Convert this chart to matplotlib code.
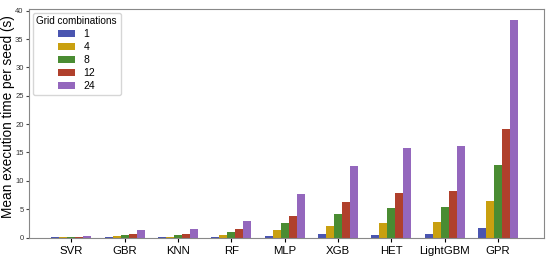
import matplotlib.pyplot as plt
import numpy as np

plt.rcParams['font.family'] = ['Liberation Sans', 'DejaVu Sans']

models = ["SVR", "GBR", "KNN", "RF", "MLP", "XGB", "HET", "LightGBM", "GPR"]
grids = ["1", "4", "8", "12", "24"]

# mean execution time per seed (s), one list per grid size
t_1 = [0.02, 0.05, 0.05, 0.15, 0.3, 0.55, 0.5, 0.55, 1.6]
t_4 = [0.05, 0.2, 0.15, 0.5, 1.3, 2.1, 2.6, 2.75, 6.4]
t_8 = [0.1, 0.4, 0.4, 0.95, 2.6, 4.2, 5.2, 5.4, 12.8]
t_12 = [0.15, 0.7, 0.7, 1.5, 3.8, 6.3, 7.9, 8.15, 19.2]
t_24 = [0.35, 1.35, 1.45, 2.9, 7.6, 12.7, 15.8, 16.2, 38.4]
series = [t_1, t_4, t_8, t_12, t_24]

colors = ['#4a55b0', '#c9a010', '#4a8c32', '#b0402c', '#9467bd']

fig = plt.figure(figsize=(5.5, 2.59), dpi=100)
ax = fig.add_axes([0.053, 0.083, 0.936, 0.882])

x = np.arange(len(models))
w = 0.15
for i, (vals, c) in enumerate(zip(series, colors)):
    ax.bar(x + (i - 2) * w, vals, width=w, color=c, label=grids[i])

ax.set_xticks(x)
ax.set_xticklabels(models, fontsize=8.2)
ax.set_yticks(np.arange(0, 41, 5))
ax.tick_params(axis='y', labelsize=5.5, length=2, pad=2, colors='#444444',
               labelcolor='#333333')
ax.tick_params(axis='x', length=3, pad=3)
ax.set_xlim(-0.79, 8.86)
ax.set_ylim(0, 40.3)
ax.set_ylabel("Mean execution time per seed (s)", fontsize=9.8)
ax.yaxis.set_label_coords(-0.028, 0.53)
for s in ax.spines.values():
    s.set_color('#888888')

ax.legend(title="Grid combinations", loc='upper left', fontsize=7.5,
          title_fontsize=7.2, handlelength=1.6, labelspacing=0.28,
          borderaxespad=0.35, borderpad=0.35)

fig.savefig("out.png", dpi=100)
